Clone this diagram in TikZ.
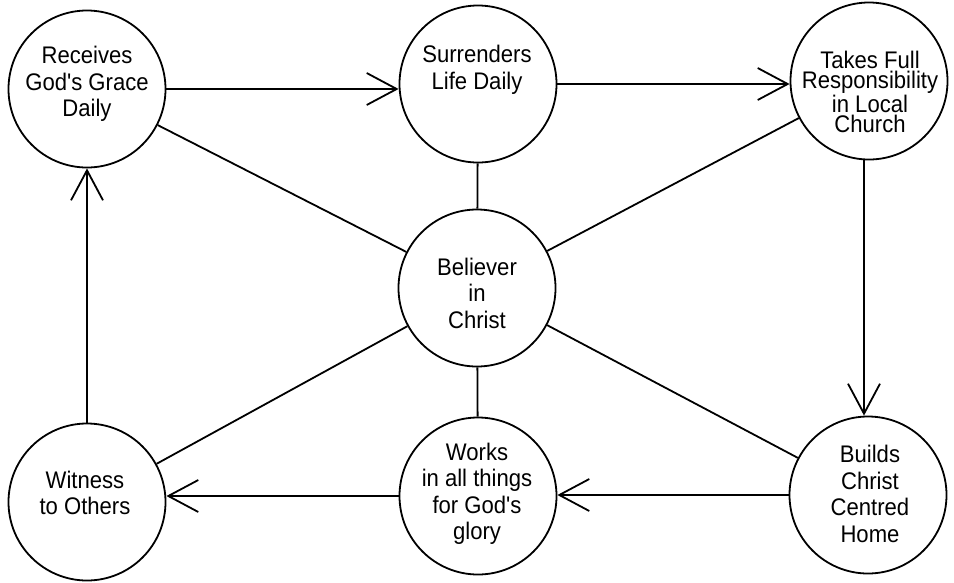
\documentclass[tikz,border=0pt]{standalone}
\usepackage{fontspec}
\setmainfont{Liberation Sans}[FakeStretch=0.92,Ligatures=TeXOff]
\usetikzlibrary{arrows.meta}
\begin{document}
\begin{tikzpicture}[x=1pt,y=-1pt,
  bubble/.style={circle,draw,line width=1.8pt,minimum size=157pt,inner sep=0pt},
  txt/.style={align=center,inner sep=0pt,font=\fontsize{24}{26.5}\selectfont},
  link/.style={line width=1.8pt},
  flow/.style={line width=1.8pt,-{Straight Barb[length=30pt,width=32pt]}}]
\useasboundingbox (0,0) rectangle (954,582);
\node[bubble] (R)  at (87,89)   {};
\node[bubble] (S)  at (478,84)  {};
\node[bubble] (T)  at (869,81)  {};
\node[bubble] (Bl) at (477,288) {};
\node[bubble] (Wi) at (87,502)  {};
\node[bubble] (Wk) at (478,496) {};
\node[bubble] (B)  at (868,495) {};
\node[txt] (tR)  at (87,84)   {Receives\\God's Grace\\Daily};
\node[txt] (tS)  at (477,70)  {Surrenders\\Life Daily};
\node[txt,font=\fontsize{24}{20.5}\selectfont] (tT) at (870,92) {Takes Full\\Responsibility\\in Local\\Church};
\node[txt] (tBl) at (477,293) {Believer\\in\\Christ};
\node[txt] (tWi) at (85,493)  {Witness\\to Others};
\node[txt] (tWk) at (477,494) {Works\\in all things\\for God's\\glory};
\node[txt] (tB)  at (870,494) {Builds\\Christ\\Centred\\Home};
% spokes
\draw[link] (Bl) -- (R);
\draw[link] (Bl) -- (S);
\draw[link] (Bl) -- (T);
\draw[link] (Bl) -- (Wi);
\draw[link] (Bl) -- (Wk);
\draw[link] (Bl) -- (B);
% cycle
\draw[flow] (R.east) -- (R.east -| S.west);
\draw[flow] (S.east) -- (S.east -| T.west);
\draw[flow] ([xshift=-5pt]T.south) -- ([xshift=-5pt]T.south |- B.north);
\draw[flow] (B.west) -- (B.west -| Wk.east);
\draw[flow] (Wk.west) -- (Wk.west -| Wi.east);
\draw[flow] (Wi.north) -- (R.south);
\end{tikzpicture}
\end{document}
